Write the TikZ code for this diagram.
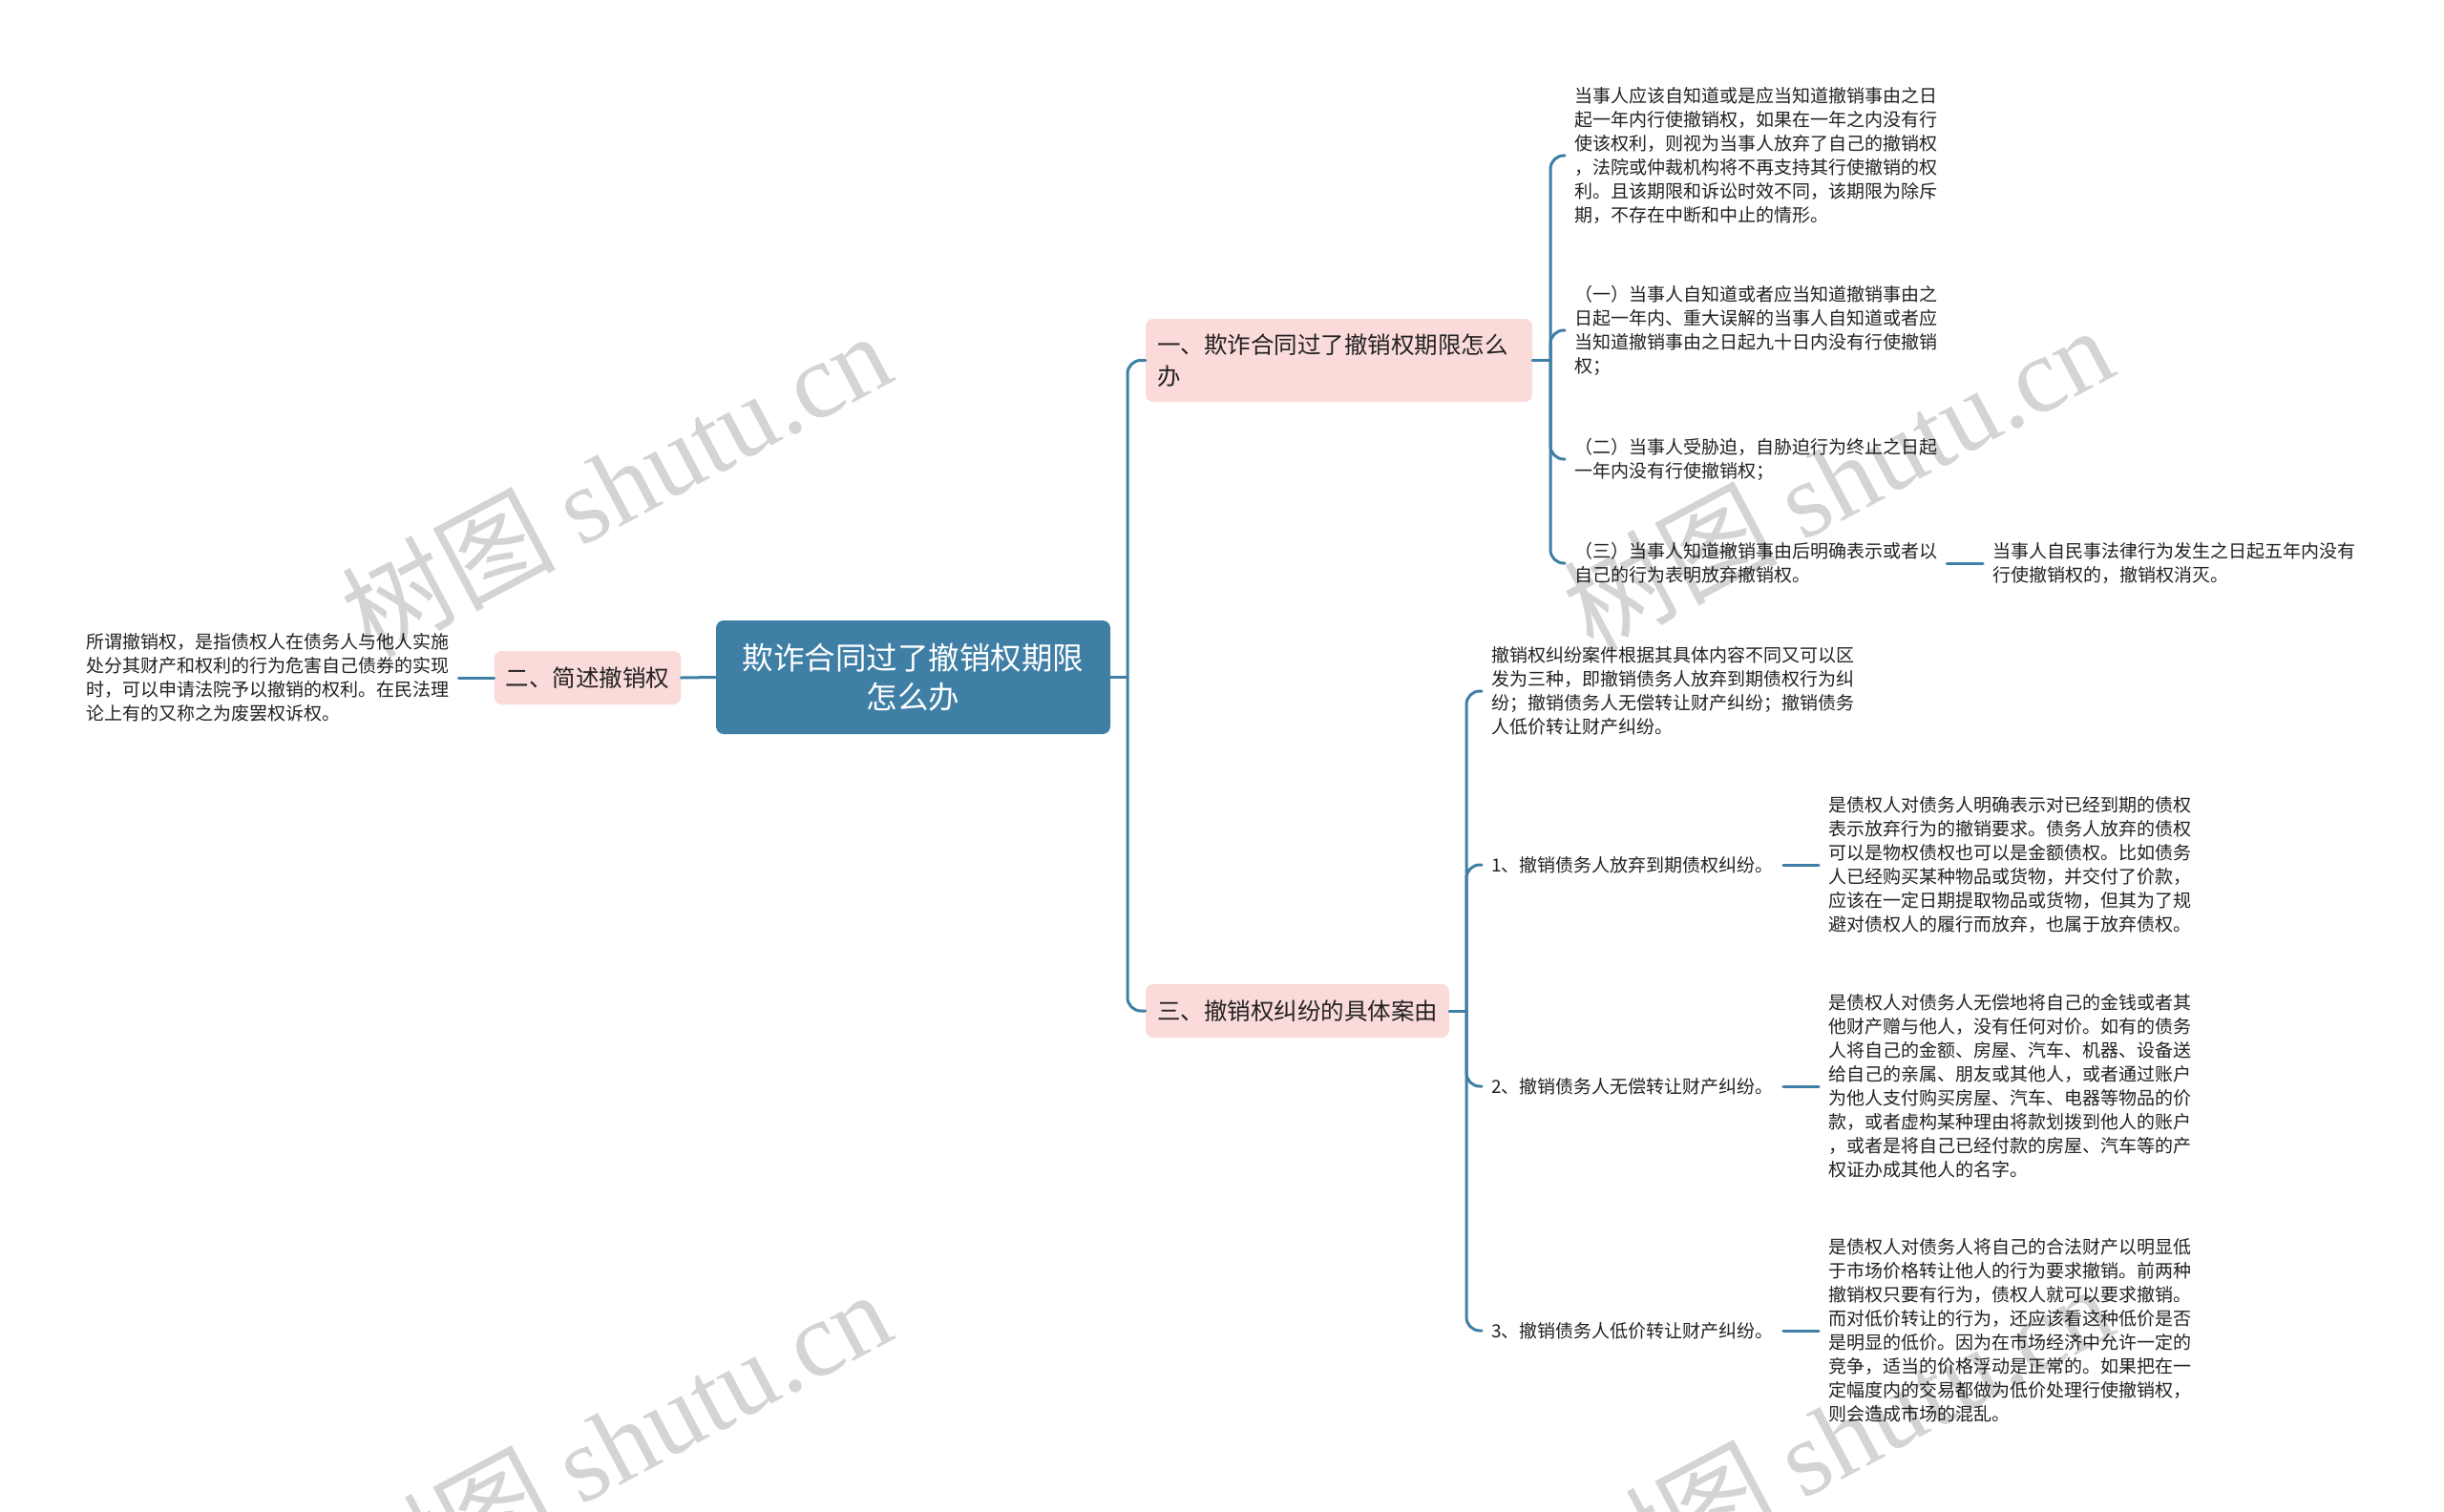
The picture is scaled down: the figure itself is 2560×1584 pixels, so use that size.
\documentclass[tikz,border=0pt]{standalone}
\usepackage{fontspec}
\setmainfont{Noto Sans CJK SC}
\newfontfamily\wmserif{Liberation Serif}
\newfontfamily\wmcjk{Noto Sans CJK SC}
\definecolor{lc}{HTML}{3F7FA6}
\definecolor{mainfill}{HTML}{3F7FA6}
\definecolor{pinkfill}{HTML}{FBDADA}
\definecolor{txt}{HTML}{222222}
\tikzset{
  conn/.style={draw=lc, line width=3pt, line cap=round},
  elbow/.style={conn, rounded corners=14pt},
  leaf/.style={font=\fontsize{19}{25}\selectfont, align=left, inner xsep=10pt, inner ysep=3pt, anchor=west, text=txt},
  lvlone/.style={fill=pinkfill, rounded corners=8pt, font=\fontsize{24.5}{33}\selectfont, inner xsep=12pt, inner ysep=0pt, text=txt},
  rootbox/.style={fill=mainfill, rounded corners=8pt, font=\fontsize{32.5}{41}\selectfont, text=white, align=center, minimum width=413pt, minimum height=119pt, inner sep=0pt},
  wm/.style={text=black, text opacity=0.17, rotate=28, inner sep=0pt}
}
\begin{document}
\begin{tikzpicture}[x=1pt, y=-1pt]
\fill[white] (0,0) rectangle (2560,1584);
\useasboundingbox (0,0) rectangle (2560,1584);

% root and first level
\node[rootbox] (c) at (956.5,709.5) {欺诈合同过了撤销权期限\\怎么办};
\node[lvlone, minimum width=195pt, minimum height=56pt] (n2) at (615.5,710) {二、简述撤销权};
\node[lvlone, text width=381pt, align=left, minimum height=87pt] (n1) at (1402.5,377.5) {一、欺诈合同过了撤销权期限怎么\\办};
\node[lvlone, minimum width=318pt, minimum height=56pt] (n3) at (1359,1059) {三、撤销权纠纷的具体案由};

% left leaf
\node[leaf] (ll) at (80,710) {所谓撤销权，是指债权人在债务人与他人实施\\处分其财产和权利的行为危害自己债券的实现\\时，可以申请法院予以撤销的权利。在民法理\\论上有的又称之为废罢权诉权。};

% leaves of n1
\node[leaf] (a1) at (1639,163) {当事人应该自知道或是应当知道撤销事由之日\\起一年内行使撤销权，如果在一年之内没有行\\使该权利，则视为当事人放弃了自己的撤销权\\，法院或仲裁机构将不再支持其行使撤销的权\\利。且该期限和诉讼时效不同，该期限为除斥\\期，不存在中断和中止的情形。};
\node[leaf] (a2) at (1639,346) {（一）当事人自知道或者应当知道撤销事由之\\日起一年内、重大误解的当事人自知道或者应\\当知道撤销事由之日起九十日内没有行使撤销\\权；};
\node[leaf] (a3) at (1639,481) {（二）当事人受胁迫，自胁迫行为终止之日起\\一年内没有行使撤销权；};
\node[leaf] (a4) at (1639,590) {（三）当事人知道撤销事由后明确表示或者以\\自己的行为表明放弃撤销权。};
\node[leaf] (a5) at (2077,590) {当事人自民事法律行为发生之日起五年内没有\\行使撤销权的，撤销权消灭。};

% children of n3
\node[leaf] (b0) at (1552,724) {撤销权纠纷案件根据其具体内容不同又可以区\\发为三种，即撤销债务人放弃到期债权行为纠\\纷；撤销债务人无偿转让财产纠纷；撤销债务\\人低价转让财产纠纷。};
\node[leaf] (b1) at (1552,906) {1、撤销债务人放弃到期债权纠纷。};
\node[leaf] (b2) at (1552,1138) {2、撤销债务人无偿转让财产纠纷。};
\node[leaf] (b3) at (1552,1394) {3、撤销债务人低价转让财产纠纷。};

\node[leaf] (g1) at (1905,906) {是债权人对债务人明确表示对已经到期的债权\\表示放弃行为的撤销要求。债务人放弃的债权\\可以是物权债权也可以是金额债权。比如债务\\人已经购买某种物品或货物，并交付了价款，\\应该在一定日期提取物品或货物，但其为了规\\避对债权人的履行而放弃，也属于放弃债权。};
\node[leaf] (g2) at (1905,1138) {是债权人对债务人无偿地将自己的金钱或者其\\他财产赠与他人，没有任何对价。如有的债务\\人将自己的金额、房屋、汽车、机器、设备送\\给自己的亲属、朋友或其他人，或者通过账户\\为他人支付购买房屋、汽车、电器等物品的价\\款，或者虚构某种理由将款划拨到他人的账户\\，或者是将自己已经付款的房屋、汽车等的产\\权证办成其他人的名字。};
\node[leaf] (g3) at (1905,1394) {是债权人对债务人将自己的合法财产以明显低\\于市场价格转让他人的行为要求撤销。前两种\\撤销权只要有行为，债权人就可以要求撤销。\\而对低价转让的行为，还应该看这种低价是否\\是明显的低价。因为在市场经济中允许一定的\\竞争，适当的价格浮动是正常的。如果把在一\\定幅度内的交易都做为低价处理行使撤销权，\\则会造成市场的混乱。};

% junction points
\coordinate (tr) at (1181,709.5);
\coordinate (ja) at (1624,377.5);
\coordinate (jb) at (1536,1059);

% connectors
\draw[conn] (c.west) -- (n2.east);
\draw[conn] (n2.west) -- (ll.east);
\draw[conn] (c.east) -- (tr);
\draw[elbow] (tr) |- (n1.west);
\draw[elbow] (tr) |- (n3.west);

\draw[conn] (n1.east) -- (ja);
\foreach \k in {a1,a2,a3,a4} { \draw[elbow] (ja) |- (\k.west); }
\draw[conn] (a4.east) -- (a5.west);

\draw[conn] (n3.east) -- (jb);
\foreach \k in {b0,b1,b2,b3} { \draw[elbow] (jb) |- (\k.west); }
\draw[conn] (b1.east) -- (g1.west);
\draw[conn] (b2.east) -- (g2.west);
\draw[conn] (b3.east) -- (g3.west);

% watermarks
\foreach \p in {(645,506),(1925,500),(645,1510),(1925,1504)} {
  \node[wm] at \p {\fontsize{112}{112}\selectfont\wmcjk 树图\ \wmserif shutu.cn};
}
\end{tikzpicture}
\end{document}
